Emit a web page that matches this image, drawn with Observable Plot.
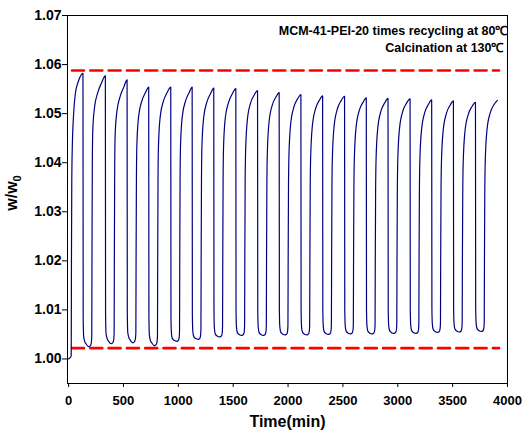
<!DOCTYPE html>
<html><head><meta charset="utf-8">
<script src="https://cdn.jsdelivr.net/npm/d3@7"></script>
<script src="https://cdn.jsdelivr.net/npm/@observablehq/plot@0.6"></script>
<style>body{margin:0;background:#fff;}</style>
</head><body><div id="chart"></div>
<script>
// Time (min) and w/w0, cycle by cycle
const time = [
  0, 10, 20, 24, 26, 29, 33, 46, 61, 91, 131,
  133, 137, 145, 161, 186, 201, 208, 211,
  213, 216, 220, 236, 266, 299, 335,
  337, 341, 349, 365, 390, 405, 412, 415,
  417, 420, 424, 440, 470, 503, 533,
  535, 539, 547, 563, 588, 603, 610, 613,
  615, 618, 622, 638, 668, 701, 730,
  732, 736, 744, 760, 785, 800, 807, 810,
  812, 815, 819, 835, 865, 898, 931,
  933, 937, 945, 961, 986, 1001, 1008, 1011,
  1013, 1016, 1020, 1036, 1066, 1099, 1126,
  1128, 1132, 1140, 1156, 1181, 1196, 1203, 1206,
  1208, 1211, 1215, 1231, 1261, 1294, 1323,
  1325, 1329, 1337, 1353, 1378, 1393, 1400, 1403,
  1405, 1408, 1412, 1428, 1458, 1491, 1524,
  1526, 1530, 1538, 1554, 1579, 1594, 1601, 1604,
  1606, 1609, 1613, 1629, 1659, 1692, 1722,
  1724, 1728, 1736, 1752, 1777, 1792, 1799, 1802,
  1804, 1807, 1811, 1827, 1857, 1890, 1919,
  1921, 1925, 1933, 1949, 1974, 1989, 1996, 1999,
  2001, 2004, 2008, 2024, 2054, 2087, 2117,
  2119, 2123, 2131, 2147, 2172, 2187, 2194, 2197,
  2199, 2202, 2206, 2222, 2252, 2285, 2315,
  2317, 2321, 2329, 2345, 2370, 2385, 2392, 2395,
  2397, 2400, 2404, 2420, 2450, 2483, 2515,
  2517, 2521, 2529, 2545, 2570, 2585, 2592, 2595,
  2597, 2600, 2604, 2620, 2650, 2683, 2713,
  2715, 2719, 2727, 2743, 2768, 2783, 2790, 2793,
  2795, 2798, 2802, 2818, 2848, 2881, 2911,
  2913, 2917, 2925, 2941, 2966, 2981, 2988, 2991,
  2993, 2996, 3000, 3016, 3046, 3079, 3112,
  3114, 3118, 3126, 3142, 3167, 3182, 3189, 3192,
  3194, 3197, 3201, 3217, 3247, 3280, 3309,
  3311, 3315, 3323, 3339, 3364, 3379, 3386, 3389,
  3391, 3394, 3398, 3414, 3444, 3477, 3507,
  3509, 3513, 3521, 3537, 3562, 3577, 3584, 3587,
  3589, 3592, 3596, 3612, 3642, 3675, 3708,
  3710, 3714, 3722, 3738, 3763, 3778, 3785, 3788,
  3790, 3793, 3797, 3813, 3843, 3876, 3908
];
const weight = [
  1.0000, 1.0002, 1.0004, 1.0008, 1.0200, 1.0360, 1.0425, 1.0500, 1.0540, 1.0567, 1.0582,
  1.0085, 1.0047, 1.0037, 1.0030, 1.0025, 1.0028, 1.0035, 1.0047,
  1.0200, 1.0387, 1.0464, 1.0512, 1.0543, 1.0562, 1.0577,
  1.0091, 1.0053, 1.0043, 1.0036, 1.0031, 1.0034, 1.0041, 1.0053,
  1.0200, 1.0379, 1.0456, 1.0504, 1.0535, 1.0554, 1.0569,
  1.0093, 1.0055, 1.0045, 1.0038, 1.0033, 1.0036, 1.0043, 1.0055,
  1.0200, 1.0364, 1.0434, 1.0494, 1.0526, 1.0543, 1.0554,
  1.0087, 1.0049, 1.0039, 1.0032, 1.0027, 1.0030, 1.0037, 1.0049,
  1.0200, 1.0364, 1.0434, 1.0494, 1.0526, 1.0543, 1.0554,
  1.0086, 1.0053, 1.0042, 1.0038, 1.0036, 1.0038, 1.0044, 1.0056,
  1.0200, 1.0364, 1.0434, 1.0494, 1.0526, 1.0543, 1.0554,
  1.0090, 1.0057, 1.0046, 1.0042, 1.0040, 1.0042, 1.0048, 1.0060,
  1.0200, 1.0362, 1.0432, 1.0492, 1.0524, 1.0541, 1.0552,
  1.0095, 1.0062, 1.0051, 1.0047, 1.0045, 1.0047, 1.0053, 1.0065,
  1.0200, 1.0361, 1.0431, 1.0491, 1.0523, 1.0540, 1.0551,
  1.0098, 1.0065, 1.0054, 1.0050, 1.0048, 1.0050, 1.0056, 1.0068,
  1.0200, 1.0357, 1.0422, 1.0487, 1.0522, 1.0538, 1.0547,
  1.0098, 1.0065, 1.0054, 1.0050, 1.0048, 1.0050, 1.0056, 1.0068,
  1.0200, 1.0353, 1.0418, 1.0483, 1.0518, 1.0534, 1.0543,
  1.0099, 1.0066, 1.0055, 1.0051, 1.0049, 1.0051, 1.0057, 1.0069,
  1.0200, 1.0349, 1.0414, 1.0479, 1.0514, 1.0530, 1.0539,
  1.0099, 1.0066, 1.0055, 1.0051, 1.0049, 1.0051, 1.0057, 1.0069,
  1.0200, 1.0346, 1.0411, 1.0476, 1.0511, 1.0527, 1.0536,
  1.0100, 1.0067, 1.0056, 1.0052, 1.0050, 1.0052, 1.0058, 1.0070,
  1.0200, 1.0345, 1.0410, 1.0475, 1.0510, 1.0526, 1.0535,
  1.0101, 1.0068, 1.0057, 1.0053, 1.0051, 1.0053, 1.0059, 1.0071,
  1.0200, 1.0342, 1.0407, 1.0472, 1.0507, 1.0523, 1.0532,
  1.0101, 1.0068, 1.0057, 1.0053, 1.0051, 1.0053, 1.0059, 1.0071,
  1.0200, 1.0341, 1.0406, 1.0471, 1.0506, 1.0522, 1.0531,
  1.0102, 1.0069, 1.0058, 1.0054, 1.0052, 1.0054, 1.0060, 1.0072,
  1.0200, 1.0340, 1.0405, 1.0470, 1.0505, 1.0521, 1.0530,
  1.0102, 1.0069, 1.0058, 1.0054, 1.0052, 1.0054, 1.0060, 1.0072,
  1.0200, 1.0338, 1.0403, 1.0468, 1.0503, 1.0519, 1.0528,
  1.0104, 1.0071, 1.0060, 1.0056, 1.0054, 1.0056, 1.0062, 1.0074,
  1.0200, 1.0336, 1.0401, 1.0466, 1.0501, 1.0517, 1.0526,
  1.0105, 1.0072, 1.0061, 1.0057, 1.0055, 1.0057, 1.0063, 1.0075,
  1.0200, 1.0333, 1.0398, 1.0463, 1.0498, 1.0514, 1.0523,
  1.0106, 1.0073, 1.0062, 1.0058, 1.0056, 1.0058, 1.0064, 1.0076,
  1.0200, 1.0337, 1.0402, 1.0467, 1.0502, 1.0518, 1.0527
];
// Red dashed reference lines
const refTime = [31, 3923];
const upperRef = 1.0588;
const lowerRef = 1.0022;
// Ticks and texts
const xTicks = [0, 500, 1000, 1500, 2000, 2500, 3000, 3500, 4000];
const yTicks = [1.00, 1.01, 1.02, 1.03, 1.04, 1.05, 1.06, 1.07];
const titleLines = ["MCM-41-PEI-20 times recycling at 80℃", "Calcination at 130℃"];
const xLabel = "Time(min)";

const series = time.map((t, i) => ({t, w: weight[i]}));
const refs = [
  ...refTime.map(t => ({t, w: upperRef, g: "upper"})),
  ...refTime.map(t => ({t, w: lowerRef, g: "lower"}))
];

const chart = Plot.plot({
  width: 525, height: 441,
  marginLeft: 67, marginRight: 18, marginTop: 15, marginBottom: 58,
  x: {domain: [-10, 4000]},
  y: {domain: [0.995, 1.07]},
  style: {fontFamily: "'Liberation Sans', Arial, sans-serif", fontWeight: "bold", background: "white", color: "black"},
  marks: [
    Plot.line(refs, {x: "t", y: "w", z: "g", stroke: "#ff0000", strokeWidth: 2.6, strokeDasharray: "12,6.3"}),
    Plot.line(series, {x: "t", y: "w", stroke: "#000080", strokeWidth: 1.2, curve: "monotone-x"}),
    Plot.frame({stroke: "black"}),
    Plot.axisX({ticks: xTicks, tickSize: 4, tickPadding: 8, label: null, fontSize: 13, tickFormat: d => String(d)}),
    Plot.axisY({ticks: yTicks, tickSize: 5, tickPadding: 1, label: null, fontSize: 14, tickFormat: d => d.toFixed(2)}),
    Plot.text([titleLines[0]], {frameAnchor: "top-right", text: d => d, dy: 11, textAnchor: "end", fontSize: 12.5}),
    Plot.text([titleLines[1]], {frameAnchor: "top-right", text: d => d, dy: 28, dx: -4, textAnchor: "end", fontSize: 12.5}),
    Plot.text([xLabel], {frameAnchor: "bottom", text: d => d, dy: 43, fontSize: 16})
  ]
});
document.getElementById("chart").appendChild(chart);

// y-axis label with a real subscript
const svg = d3.select(chart);
const yl = svg.append("text")
  .attr("transform", "translate(17,193) rotate(-90)")
  .attr("text-anchor", "middle")
  .attr("font-size", 16)
  .attr("font-weight", "bold")
  .attr("fill", "black");
yl.append("tspan").text("w/w");
yl.append("tspan").attr("font-size", 11).attr("dy", 4).text("0");
</script>
</body></html>
